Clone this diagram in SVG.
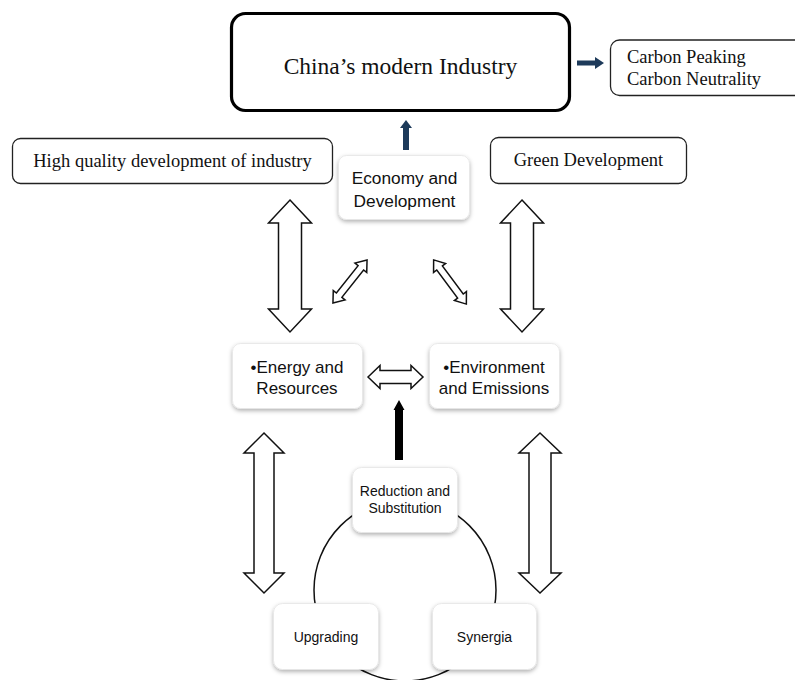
<svg xmlns="http://www.w3.org/2000/svg" width="795" height="680" viewBox="0 0 795 680">
<defs>
<filter id="sh" x="-20%" y="-20%" width="140%" height="150%">
<feDropShadow dx="0" dy="2" stdDeviation="2" flood-color="#000" flood-opacity="0.3"/>
</filter>
<polygon id="diag" points="-27.5,0 -17.5,-7.5 -17.5,-3.5 17.5,-3.5 17.5,-7.5 27.5,0 17.5,7.5 17.5,3.5 -17.5,3.5 -17.5,7.5"/>
</defs>
<style>
.serif{font-family:"Liberation Serif","Times New Roman",serif;fill:#111;}
.sans{font-family:"Liberation Sans",Arial,sans-serif;fill:#111;}
.obox{fill:#fff;stroke:#222;stroke-width:1.3;}
.sbox{fill:#fff;stroke:#e4e4e4;stroke-width:0.8;filter:url(#sh);}
.darr{fill:#fff;stroke:#111;stroke-width:1.5;stroke-linejoin:miter;}
.navy{fill:#1d3a5a;}
</style>
<rect width="795" height="680" fill="#fff"/>

<g id="connectors">
<circle cx="405" cy="590" r="91" fill="none" stroke="#111" stroke-width="1.5"/>
<polygon class="navy" points="577,60.5 595,60.5 595,57 604,63 595,69 595,65.5 577,65.5"/>
<polygon class="navy" points="403,150 403,128 400,128 406,120 412,128 409,128 409,150"/>
<polygon class="darr" points="290,200 311.5,223 301.5,223 301.5,309 311.5,309 290,332 268.5,309 278.5,309 278.5,223 268.5,223"/>
<polygon class="darr" points="522,200 543.5,223 533.5,223 533.5,309 543.5,309 522,332 500.5,309 510.5,309 510.5,223 500.5,223"/>
<polygon class="darr" points="264,433 284,453 274,453 274,573 284,573 264,593 244,573 254,573 254,453 244,453"/>
<polygon class="darr" points="540,433 561,453 551,453 551,573 561,573 540,593 519,573 529,573 529,453 519,453"/>
<use href="#diag" class="darr" transform="translate(350,281.5) rotate(-51.7)"/>
<use href="#diag" class="darr" transform="translate(450,282) rotate(53.5)"/>
<polygon class="darr" points="368,377 380,365.5 380,370.5 411,370.5 411,365.5 423,377 411,388.5 411,383.5 380,383.5 380,388.5"/>
<polygon fill="#000" points="395,460 395,410 393.5,410 399,400 404.5,410 403,410 403,460"/>
</g>

<g id="main">
<rect x="231.5" y="13.5" width="338" height="97" rx="14" fill="#fff" stroke="#000" stroke-width="3.2"/>
<text class="serif" x="400.5" y="74" font-size="23.5" text-anchor="middle">China’s modern Industry</text>
</g>

<g id="carbon">
<rect class="obox" x="610.5" y="40" width="200" height="55.5" rx="9"/>
<text class="serif" x="627" y="63" font-size="18.5">Carbon Peaking</text>
<text class="serif" x="627" y="85" font-size="18.5">Carbon Neutrality</text>
</g>

<g id="highquality">
<rect class="obox" x="12.5" y="138.5" width="320" height="45" rx="8"/>
<text class="serif" x="172.5" y="166.5" font-size="18.5" text-anchor="middle">High quality development of industry</text>
</g>

<g id="green">
<rect class="obox" x="490.5" y="137.5" width="196" height="46" rx="8"/>
<text class="serif" x="588.5" y="165.5" font-size="18.5" text-anchor="middle">Green Development</text>
</g>

<g id="economy">
<rect class="sbox" x="338.5" y="155.5" width="131" height="64" rx="8"/>
<text class="sans" x="404.5" y="184" font-size="17.3" text-anchor="middle">Economy and</text>
<text class="sans" x="404.5" y="207" font-size="17.3" text-anchor="middle">Development</text>
</g>

<g id="energy">
<rect class="sbox" x="232.5" y="343.5" width="130" height="65" rx="8"/>
<text class="sans" x="297" y="373" font-size="17" text-anchor="middle">•Energy and</text>
<text class="sans" x="297" y="394" font-size="17" text-anchor="middle">Resources</text>
</g>

<g id="environment">
<rect class="sbox" x="429.5" y="343.5" width="130" height="65" rx="8"/>
<text class="sans" x="494" y="373" font-size="17" text-anchor="middle">•Environment</text>
<text class="sans" x="494" y="394" font-size="17" text-anchor="middle">and Emissions</text>
</g>

<g id="reduction">
<rect class="sbox" x="352.5" y="467.5" width="105" height="65" rx="9"/>
<text class="sans" x="405" y="496" font-size="14" text-anchor="middle">Reduction and</text>
<text class="sans" x="405" y="513" font-size="14" text-anchor="middle">Substitution</text>
</g>

<g id="upgrading">
<rect class="sbox" x="273.5" y="603.5" width="105" height="66" rx="9"/>
<text class="sans" x="326" y="642" font-size="14" text-anchor="middle">Upgrading</text>
</g>

<g id="synergia">
<rect class="sbox" x="432.5" y="603.5" width="104" height="66" rx="9"/>
<text class="sans" x="484.5" y="642" font-size="14" text-anchor="middle">Synergia</text>
</g>
</svg>
